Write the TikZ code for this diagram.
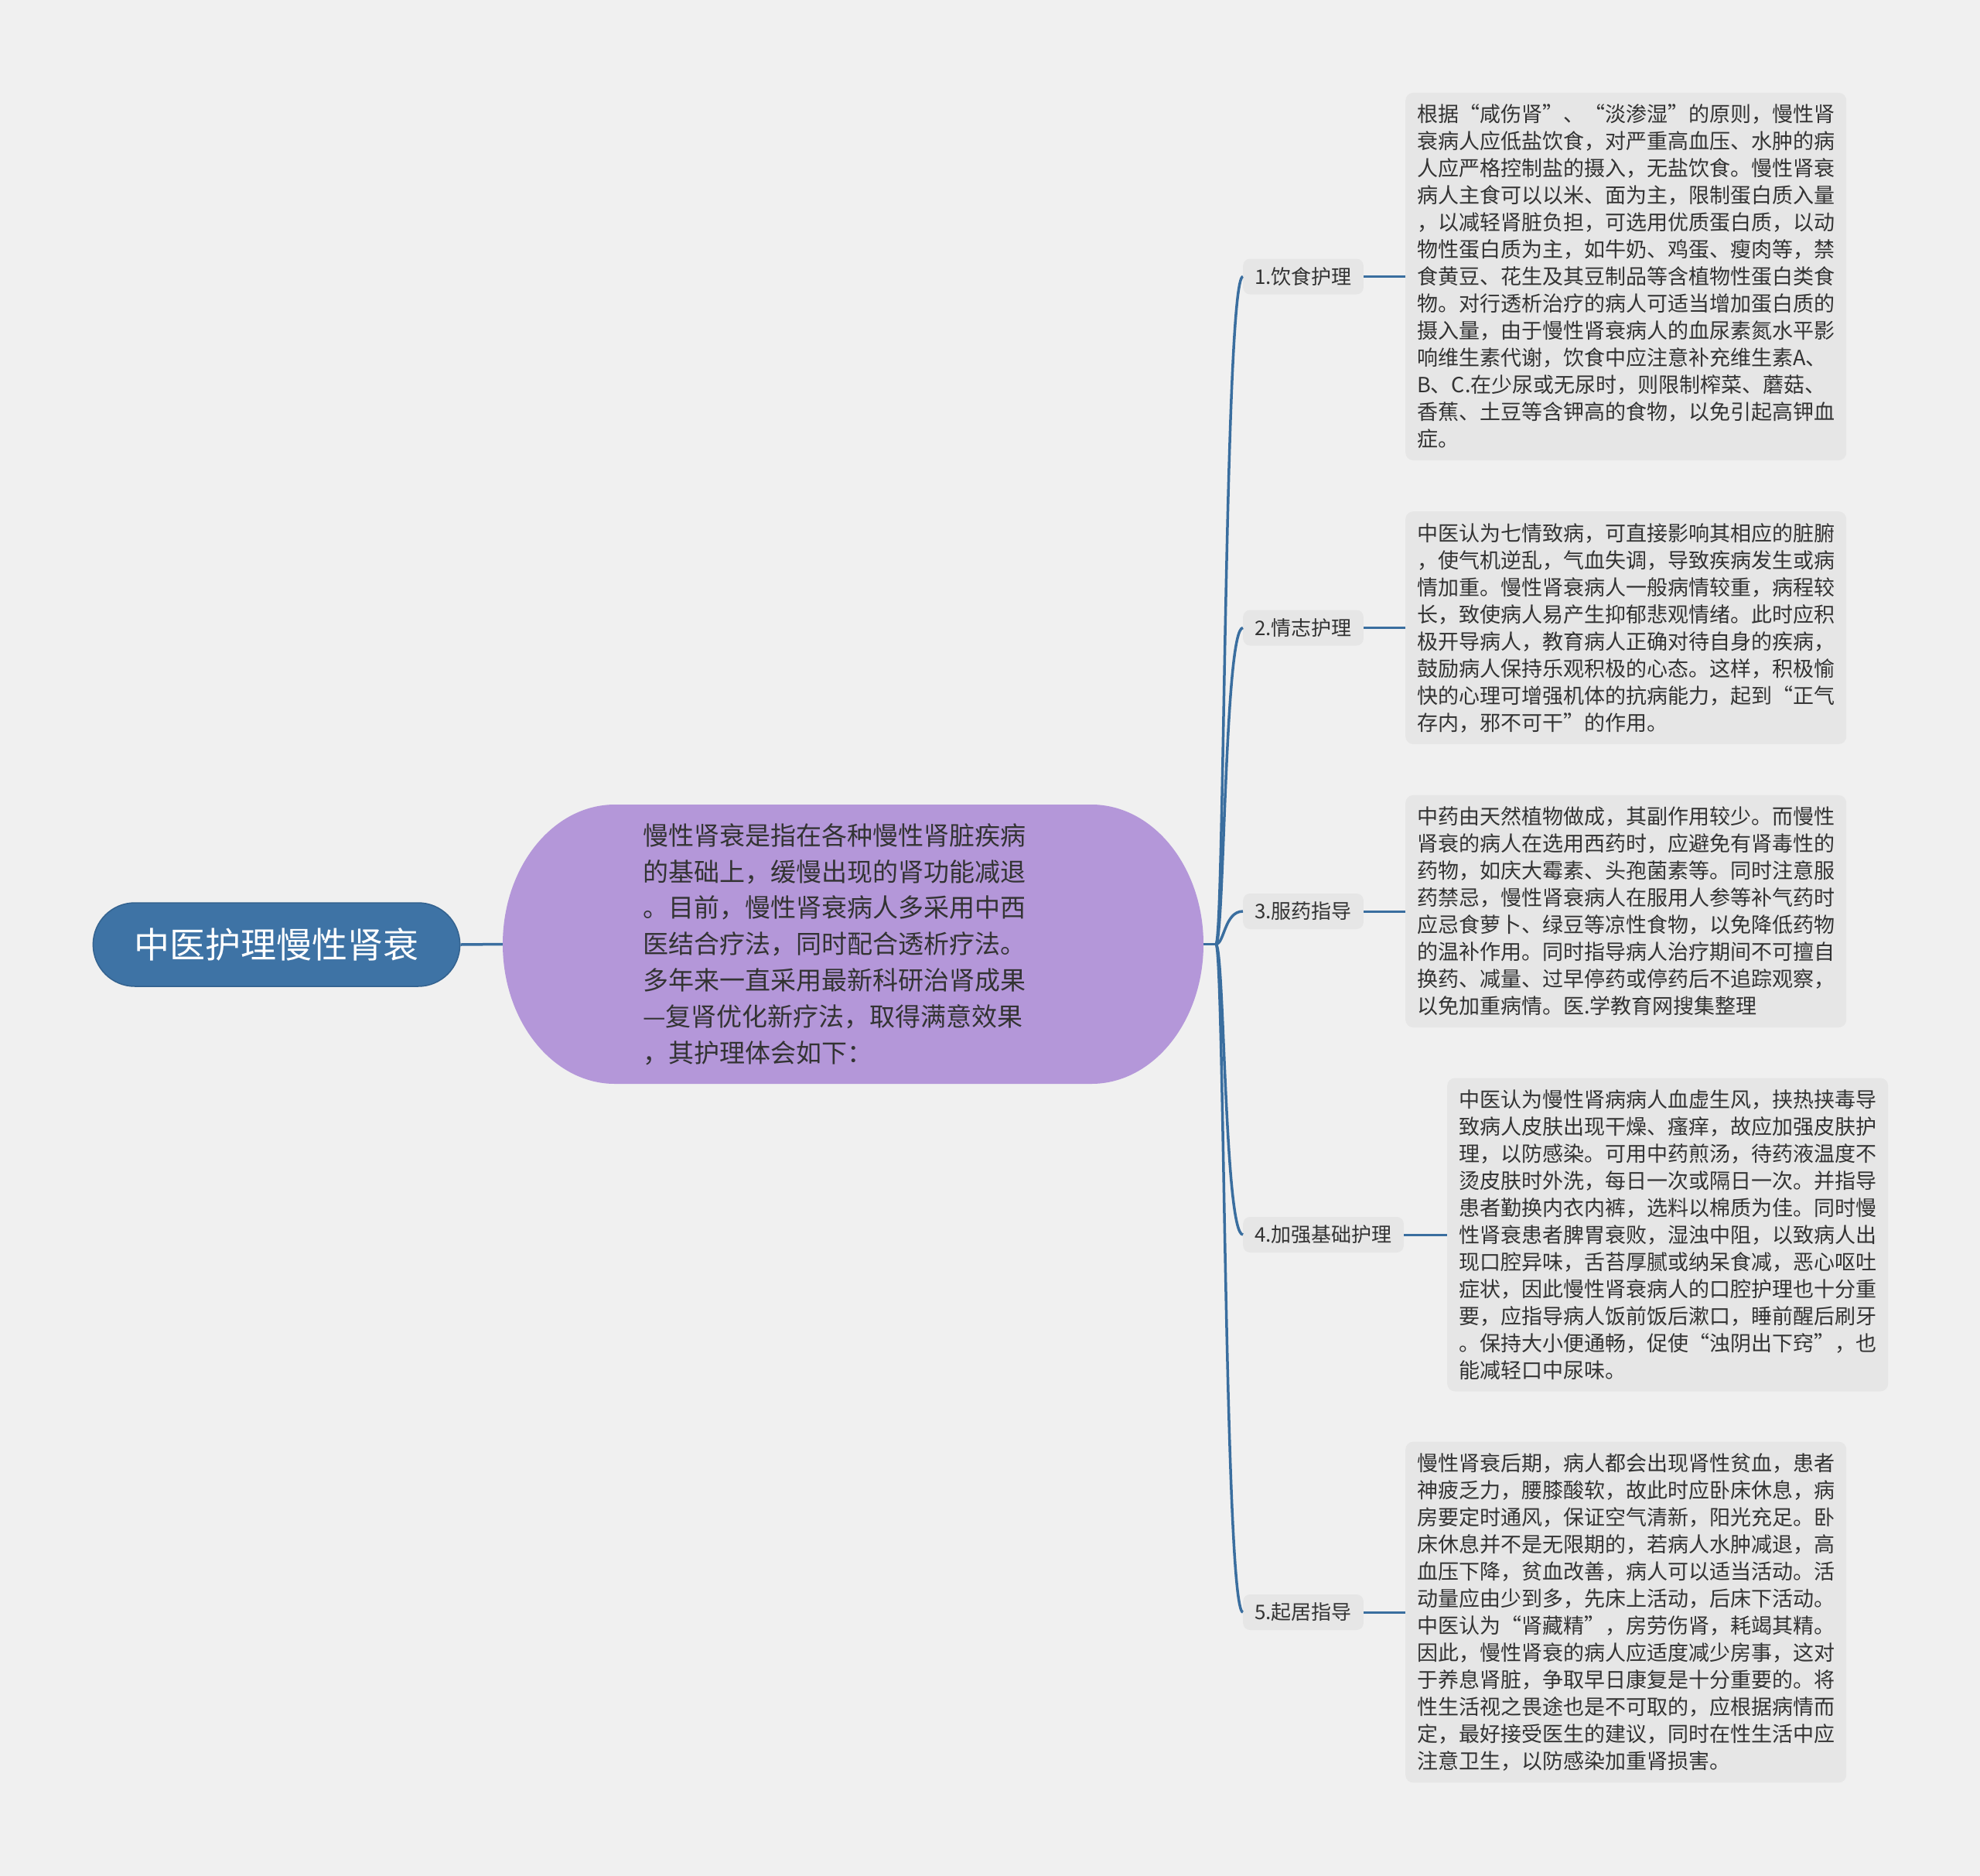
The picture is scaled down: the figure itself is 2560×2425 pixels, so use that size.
\documentclass[tikz,border=0pt]{standalone}
\usepackage{fontspec}
\setmainfont{Noto Sans CJK SC}
\usetikzlibrary{shapes.misc}
\definecolor{bgc}{HTML}{F0F0F0}
\definecolor{boxc}{HTML}{E6E6E6}
\definecolor{linec}{HTML}{3A6E9F}
\definecolor{rootc}{HTML}{3E73A5}
\definecolor{rootb}{HTML}{33628F}
\definecolor{purp}{HTML}{B497D9}
\definecolor{txt}{HTML}{333333}
\tikzset{
  textbox/.style={fill=boxc, rounded corners=10pt, text=txt, align=left,
    text width=540pt, inner xsep=15pt, inner ysep=15pt,
    font=\fontsize{27}{35}\selectfont, anchor=west},
  labbox/.style={fill=boxc, rounded corners=9pt, text=txt, inner xsep=15pt,
    minimum height=46pt, font=\fontsize{26}{30}\selectfont, anchor=west},
  rootbox/.style={rounded rectangle, fill=rootc, draw=rootb, line width=1.5pt,
    text=white, minimum width=481pt, minimum height=108pt,
    font=\fontsize{46}{50}\selectfont},
  centtext/.style={text=txt, align=left, inner sep=0pt,
    font=\fontsize{33}{46.8}\selectfont},
  trunk/.style={draw=linec, line width=3.5pt},
  conn/.style={draw=linec, line width=3pt},
}
\begin{document}
\begin{tikzpicture}[x=1pt,y=-1pt]
\fill[bgc] (0,0) rectangle (2560,2425);
\useasboundingbox (0,0) rectangle (2560,2425);

% central purple shape (rounded ends)
\fill[purp] (795,1040) -- (1411,1040)
  .. controls (1491.1,1040) and (1556,1120.8) .. (1556,1220.5)
  .. controls (1556,1320.2) and (1491.1,1401) .. (1411,1401)
  -- (795,1401)
  .. controls (714.9,1401) and (650,1320.2) .. (650,1220.5)
  .. controls (650,1120.8) and (714.9,1040) .. cycle;

\node[rootbox] (root) at (357.5,1221) {中医护理慢性肾衰};

\node[centtext, minimum width=906pt, minimum height=361pt, text width=544pt] (cent) at (1103,1220.5) {慢性肾衰是指在各种慢性肾脏疾病\\的基础上，缓慢出现的肾功能减退\\。目前，慢性肾衰病人多采用中西\\医结合疗法，同时配合透析疗法。\\多年来一直采用最新科研治肾成果\\—复肾优化新疗法，取得满意效果\\，其护理体会如下：};

\coordinate (J) at (1572,1220.5);
\coordinate (cx) at (1583,1220.5);

\node[labbox] (l1) at (1607,357.5) {1.饮食护理};
\node[labbox] (l2) at (1607,811.5) {2.情志护理};
\node[labbox] (l3) at (1607,1178) {3.服药指导};
\node[labbox] (l4) at (1607,1596) {4.加强基础护理};
\node[labbox] (l5) at (1607,2084) {5.起居指导};

\node[textbox] (t1) at (1817,357.5) {根据“咸伤肾”、“淡渗湿”的原则，慢性肾\\衰病人应低盐饮食，对严重高血压、水肿的病\\人应严格控制盐的摄入，无盐饮食。慢性肾衰\\病人主食可以以米、面为主，限制蛋白质入量\\，以减轻肾脏负担，可选用优质蛋白质，以动\\物性蛋白质为主，如牛奶、鸡蛋、瘦肉等，禁\\食黄豆、花生及其豆制品等含植物性蛋白类食\\物。对行透析治疗的病人可适当增加蛋白质的\\摄入量，由于慢性肾衰病人的血尿素氮水平影\\响维生素代谢，饮食中应注意补充维生素A、\\B、C.在少尿或无尿时，则限制榨菜、蘑菇、\\香蕉、土豆等含钾高的食物，以免引起高钾血\\症。};

\node[textbox] (t2) at (1817,811.5) {中医认为七情致病，可直接影响其相应的脏腑\\，使气机逆乱，气血失调，导致疾病发生或病\\情加重。慢性肾衰病人一般病情较重，病程较\\长，致使病人易产生抑郁悲观情绪。此时应积\\极开导病人，教育病人正确对待自身的疾病，\\鼓励病人保持乐观积极的心态。这样，积极愉\\快的心理可增强机体的抗病能力，起到“正气\\存内，邪不可干”的作用。};

\node[textbox] (t3) at (1817,1178) {中药由天然植物做成，其副作用较少。而慢性\\肾衰的病人在选用西药时，应避免有肾毒性的\\药物，如庆大霉素、头孢菌素等。同时注意服\\药禁忌，慢性肾衰病人在服用人参等补气药时\\应忌食萝卜、绿豆等凉性食物，以免降低药物\\的温补作用。同时指导病人治疗期间不可擅自\\换药、减量、过早停药或停药后不追踪观察，\\以免加重病情。医.学教育网搜集整理};

\node[textbox] (t4) at (1871,1596) {中医认为慢性肾病病人血虚生风，挟热挟毒导\\致病人皮肤出现干燥、瘙痒，故应加强皮肤护\\理，以防感染。可用中药煎汤，待药液温度不\\烫皮肤时外洗，每日一次或隔日一次。并指导\\患者勤换内衣内裤，选料以棉质为佳。同时慢\\性肾衰患者脾胃衰败，湿浊中阻，以致病人出\\现口腔异味，舌苔厚腻或纳呆食减，恶心呕吐\\症状，因此慢性肾衰病人的口腔护理也十分重\\要，应指导病人饭前饭后漱口，睡前醒后刷牙\\。保持大小便通畅，促使“浊阴出下窍”，也\\能减轻口中尿味。};

\node[textbox] (t5) at (1817,2084) {慢性肾衰后期，病人都会出现肾性贫血，患者\\神疲乏力，腰膝酸软，故此时应卧床休息，病\\房要定时通风，保证空气清新，阳光充足。卧\\床休息并不是无限期的，若病人水肿减退，高\\血压下降，贫血改善，病人可以适当活动。活\\动量应由少到多，先床上活动，后床下活动。\\中医认为“肾藏精”，房劳伤肾，耗竭其精。\\因此，慢性肾衰的病人应适度减少房事，这对\\于养息肾脏，争取早日康复是十分重要的。将\\性生活视之畏途也是不可取的，应根据病情而\\定，最好接受医生的建议，同时在性生活中应\\注意卫生，以防感染加重肾损害。};

% connectors
\draw[trunk] (root.east) -- (cent.west);
\draw[trunk] (cent.east) -- (J);
\foreach \n in {l1,l2,l3,l4,l5}{
  \draw[trunk] (J) .. controls (cx) and (cx |- \n.west) .. (\n.west);
}
\draw[conn] (l1.east) -- (t1.west);
\draw[conn] (l2.east) -- (t2.west);
\draw[conn] (l3.east) -- (t3.west);
\draw[conn] (l4.east) -- (t4.west);
\draw[conn] (l5.east) -- (t5.west);
\end{tikzpicture}
\end{document}
